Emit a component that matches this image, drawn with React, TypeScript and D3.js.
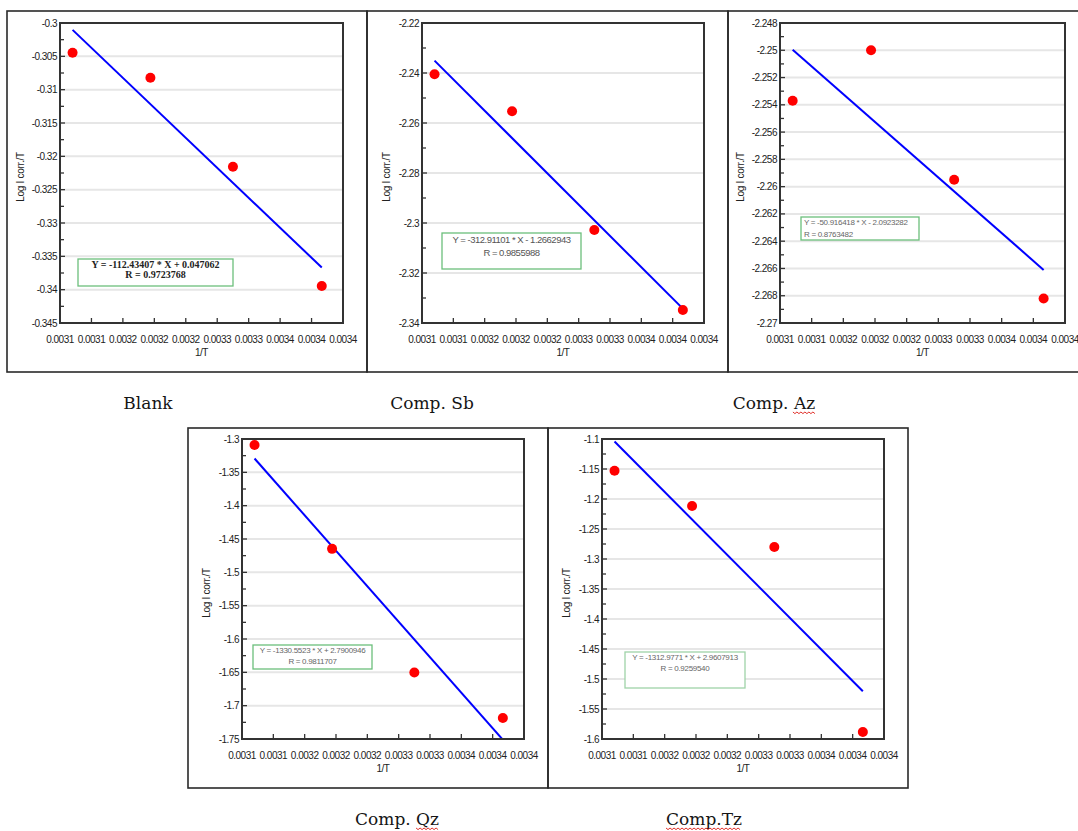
import React, { useEffect, useRef } from 'react'
import * as d3 from 'd3'

// 1/T values of the four measuring temperatures
const invT = [0.003096, 0.003195, 0.0033, 0.003413]
const xTickValues = [0.00308, 0.00312, 0.00316, 0.0032, 0.00324, 0.00328, 0.00332, 0.00336, 0.0034, 0.00344]

const panelNames = ['Blank', 'Comp. Sb', 'Comp. Az', 'Comp. Qz', 'Comp.Tz']

// Log Icorr./T
const logIcorrBlank = [-0.30445, -0.3082, -0.32155, -0.33945]
const logIcorrSb = [-2.2405, -2.2553, -2.3028, -2.3348]
const logIcorrAz = [-2.2537, -2.25, -2.2595, -2.2682]
const logIcorrQz = [-1.309, -1.4648, -1.6502, -1.7185]
const logIcorrTz = [-1.1528, -1.2117, -1.28, -1.5883]

// fitted lines
const slopes = [-112.43407, -312.91101, -50.916418, -1330.5523, -1312.9771]
const intercepts = [0.047062, -1.2662943, -2.0923282, 2.7900946, 2.9607913]
const rValues = ['0.9723768', '0.9855988', '0.8763482', '0.9811707', '0.9259540']

const yDomains = [[-0.345, -0.3], [-2.34, -2.22], [-2.27, -2.248], [-1.75, -1.3], [-1.6, -1.1]]
const yMajorSteps = [0.005, 0.02, 0.002, 0.05, 0.05]

const series = [logIcorrBlank, logIcorrSb, logIcorrAz, logIcorrQz, logIcorrTz]

// layout only (pixels)
const layout = [
  { frame: [7, 11, 367, 372], plot: [60, 23, 343, 323], yLab: 21, label: [148, 409], box: [18, 236, 155, 27], eq: 'bold', squiggle: null },
  { frame: [367, 11, 728, 372], plot: [422, 23, 704, 323], yLab: 387, label: [432, 409], box: [20, 210, 139, 36], eq: 'sans9', squiggle: null },
  { frame: [728, 11, 1090, 372], plot: [780, 23, 1065, 323], yLab: 741, label: [774, 409], box: [21, 194, 118, 23], eq: 'left', squiggle: 'Az' },
  { frame: [188, 428, 548, 788], plot: [242, 439, 524, 739], yLab: 207, label: [397, 825], box: [11, 206, 119, 24], eq: 'small', squiggle: 'Qz' },
  { frame: [548, 428, 908, 788], plot: [602, 439, 884, 739], yLab: 567, label: [704, 825], box: [23, 213, 120, 36], eq: 'small', squiggle: 'all' },
]

const tickFont = 'Liberation Sans, Arial, sans-serif'

const fmt = (v: number) => String(+v.toFixed(4))

const drawChart = (el: SVGSVGElement) => {
  const svg = d3.select(el)
  svg.selectAll('*').remove()

  layout.forEach((p, i) => {
    const g = svg.append('g')
    const [fx0, fy0, fx1, fy1] = p.frame
    g.append('rect')
      .attr('x', fx0).attr('y', fy0)
      .attr('width', fx1 - fx0).attr('height', fy1 - fy0)
      .attr('fill', 'none').attr('stroke', '#2a2a2a').attr('stroke-width', 1.6)

    const [L, T, R, B] = p.plot
    const x = d3.scaleLinear().domain([xTickValues[0], xTickValues[xTickValues.length - 1]]).range([L, R])
    const y = d3.scaleLinear().domain(yDomains[i]).range([B, T])

    const [y0, y1] = yDomains[i]
    const step = yMajorSteps[i]
    const n = Math.round((y1 - y0) / step)
    const majors = d3.range(0, n + 1).map(k => +(y0 + k * step).toFixed(4))
    const minors = d3.range(0, n).map(k => y0 + (k + 0.5) * step)

    // grid
    g.selectAll(null).data(majors.slice(1, -1)).enter().append('line')
      .attr('x1', L).attr('x2', R)
      .attr('y1', d => y(d)).attr('y2', d => y(d))
      .attr('stroke', '#e6e6e6').attr('stroke-width', 2)

    // clip for the fit line
    const clipId = `clip${i}`
    svg.append('clipPath').attr('id', clipId)
      .append('rect').attr('x', L).attr('y', T).attr('width', R - L).attr('height', B - T)

    const fitLine = d3.line<number>()
      .x(d => x(d))
      .y(d => y(slopes[i] * d + intercepts[i]))
    g.append('path')
      .attr('d', fitLine([invT[0], invT[invT.length - 1]]))
      .attr('clip-path', `url(#${clipId})`)
      .attr('stroke', '#0000ff').attr('stroke-width', 2).attr('fill', 'none')

    g.selectAll(null).data(series[i]).enter().append('circle')
      .attr('cx', (d, k) => x(invT[k]))
      .attr('cy', d => y(d))
      .attr('r', 5)
      .attr('fill', '#ff0000')

    // plot frame
    g.append('rect')
      .attr('x', L).attr('y', T).attr('width', R - L).attr('height', B - T)
      .attr('fill', 'none').attr('stroke', '#333').attr('stroke-width', 2)

    // y ticks
    g.selectAll(null).data(minors).enter().append('line')
      .attr('x1', L).attr('x2', L + 4)
      .attr('y1', d => y(d)).attr('y2', d => y(d))
      .attr('stroke', '#333').attr('stroke-width', 1.3)
    g.selectAll(null).data(majors).enter().append('line')
      .attr('x1', L).attr('x2', L + 5)
      .attr('y1', d => y(d)).attr('y2', d => y(d))
      .attr('stroke', '#333').attr('stroke-width', 1.3)
    g.selectAll(null).data(majors).enter().append('text')
      .attr('x', L - 3).attr('y', d => y(d) + 3.5)
      .attr('text-anchor', 'end')
      .attr('font-family', tickFont).attr('font-size', 10)
      .attr('letter-spacing', -0.5)
      .attr('fill', '#222')
      .text(d => fmt(d))

    // x ticks
    g.selectAll(null).data(xTickValues).enter().append('line')
      .attr('x1', d => x(d)).attr('x2', d => x(d))
      .attr('y1', B).attr('y2', B - 5)
      .attr('stroke', '#333').attr('stroke-width', 1.3)
    g.selectAll(null).data(xTickValues).enter().append('text')
      .attr('x', d => x(d)).attr('y', B + 20)
      .attr('text-anchor', 'middle')
      .attr('font-family', tickFont).attr('font-size', 10)
      .attr('letter-spacing', -0.5)
      .attr('fill', '#222')
      .text(d => d.toFixed(4))

    g.append('text')
      .attr('x', (L + R) / 2).attr('y', B + 33)
      .attr('text-anchor', 'middle')
      .attr('font-family', tickFont).attr('font-size', 10)
      .attr('letter-spacing', -0.5)
      .attr('fill', '#222')
      .text('1/T')

    g.append('text')
      .attr('transform', `translate(${p.yLab + 3}, ${(T + B) / 2 + 4}) rotate(-90)`)
      .attr('text-anchor', 'middle')
      .attr('font-family', tickFont).attr('font-size', 10)
      .attr('letter-spacing', -0.3)
      .attr('fill', '#222')
      .text('Log I corr./T')

    // equation box
    const [bx, by, bw, bh] = p.box
    const X0 = L + bx, Y0 = T + by
    g.append('rect')
      .attr('x', X0).attr('y', Y0).attr('width', bw).attr('height', bh)
      .attr('fill', '#fff')
      .attr('stroke', i === 4 ? '#9fd3a8' : '#6cbf7c').attr('stroke-width', 1.3)

    const sign = intercepts[i] < 0 ? '-' : '+'
    const eqText = `Y = ${slopes[i]} * X ${sign} ${Math.abs(intercepts[i])}`
    const rText = `R = ${rValues[i]}`
    if (p.eq === 'bold') {
      [eqText, rText].forEach((t, k) => g.append('text')
        .attr('x', X0 + bw / 2).attr('y', Y0 + 9 + k * 10)
        .attr('text-anchor', 'middle')
        .attr('font-family', 'Liberation Serif, Times New Roman, serif')
        .attr('font-weight', 'bold').attr('font-size', 10)
        .attr('fill', '#222')
        .text(t))
    } else if (p.eq === 'sans9') {
      [eqText, rText].forEach((t, k) => g.append('text')
        .attr('x', X0 + bw / 2).attr('y', Y0 + 10 + k * 13)
        .attr('text-anchor', 'middle')
        .attr('font-family', tickFont).attr('font-size', 9.5)
        .attr('letter-spacing', -0.5)
        .attr('fill', '#555')
        .text(t))
    } else if (p.eq === 'left') {
      [eqText, rText].forEach((t, k) => g.append('text')
        .attr('x', X0 + 3).attr('y', Y0 + 8 + k * 12)
        .attr('font-family', tickFont).attr('font-size', 8)
        .attr('letter-spacing', -0.3)
        .attr('fill', '#666')
        .text(t))
    } else {
      [eqText, rText].forEach((t, k) => g.append('text')
        .attr('x', X0 + bw / 2).attr('y', Y0 + 8 + k * 11)
        .attr('text-anchor', 'middle')
        .attr('font-family', tickFont).attr('font-size', 8)
        .attr('letter-spacing', -0.3)
        .attr('fill', '#666')
        .text(t))
    }

    // panel caption
    const cap = g.append('text')
      .attr('x', p.label[0]).attr('y', p.label[1])
      .attr('text-anchor', 'middle')
      .attr('font-family', 'DejaVu Serif, serif').attr('font-size', 17)
      .attr('fill', '#151515')
    const name = panelNames[i]
    let marked: SVGTextContentElement | null = null
    if (p.squiggle && p.squiggle !== 'all') {
      const idx = name.indexOf(p.squiggle)
      cap.append('tspan').text(name.slice(0, idx))
      marked = cap.append('tspan').text(name.slice(idx)).node() as SVGTextContentElement
    } else {
      cap.text(name)
      if (p.squiggle === 'all') marked = cap.node() as SVGTextContentElement
    }
    if (marked) {
      const bb = (marked as any).getBBox()
      const pts: [number, number][] = []
      for (let xx = bb.x; xx <= bb.x + bb.width; xx += 2) {
        pts.push([xx, p.label[1] + 3 + (Math.round((xx - bb.x) / 2) % 2 === 0 ? 0 : 1.6)])
      }
      g.append('path')
        .attr('d', d3.line()(pts))
        .attr('stroke', '#e0302a').attr('stroke-width', 1).attr('fill', 'none')
    }
  })
}

const App = () => {
  const ref = useRef<SVGSVGElement>(null)

  useEffect(() => {
    if (ref.current) drawChart(ref.current)
  }, [])

  return (
    <svg
      ref={ref}
      width={1078}
      height={831}
      style={{ position: 'absolute', left: 0, top: 0, background: '#fff' }}
    />
  )
}

export default App
